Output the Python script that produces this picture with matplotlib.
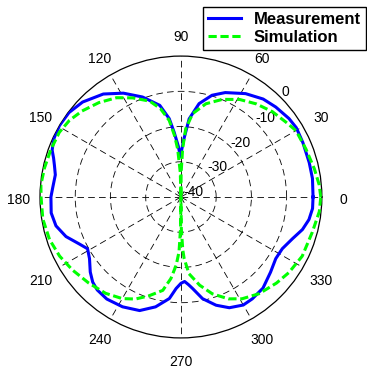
import numpy as np
import matplotlib.pyplot as plt
from matplotlib.transforms import offset_copy

plt.rcParams['font.family'] = ['Liberation Sans', 'DejaVu Sans']

# radiation pattern, angle in degrees, level in dB
meas_angle = [0, 8, 15, 24, 31, 36, 43.5, 50, 58, 67, 73, 79, 84, 87, 89, 90.8, 93, 96,
              98.5, 103, 111, 119, 127, 136, 143, 149.5, 155, 158, 160, 163, 166, 170,
              176, 180, 187, 193, 199, 205, 209, 214, 219.6, 224, 228, 234, 242, 250,
              257, 263.5, 267, 270, 272.5, 275, 277.3, 282, 288, 293.6, 300, 305, 312,
              320, 327, 333, 339.5, 345, 350, 355, 360]
meas_db = [-2.5, -2.3, -2.3, -2.1, -1.8, -2.1, -2.9, -3.7, -5.4, -7.8, -9.8, -13.0, -17.7,
           -23.4, -26.5, -28.5, -25.5, -21.5, -17.5, -13.3, -9.6, -6.3, -3.4, -1.2, -0.2,
           0.0, -0.3, -0.8, -1.1, -2.2, -3.0, -3.8, -3.5, -3.1, -2.9, -3.6, -5.5, -8.3,
           -9.7, -8.7, -6.6, -5.2, -4.5, -4.2, -4.7, -5.7, -8.0, -11.0, -14.0, -15.5,
           -16.0, -15.0, -13.8, -10.5, -7.7, -5.7, -4.6, -4.7, -5.2, -6.8, -7.9, -7.7,
           -6.2, -4.3, -3.1, -2.5, -2.5]

sim_angle = [0, 5, 12, 21, 30, 35.5, 43, 51, 59, 67, 75, 82, 86, 88, 89.5, 90.5, 91.5,
             93.9, 96, 98.7, 103, 108, 116, 123, 131, 139, 145.5, 152, 160, 168, 175,
             180, 189, 198, 206, 214, 223, 232, 240, 246, 252, 259, 263, 266, 268,
             269.3, 270, 270.7, 272, 273, 276, 282, 288, 295, 301, 309, 318, 325, 334,
             345, 354, 360]
sim_db = [-0.3, -0.6, -1.3, -2.0, -2.3, -3.4, -4.5, -6.0, -7.7, -9.9, -12.6, -16.1, -20.6,
          -26.3, -33, -40, -33, -26.3, -22.4, -18.0, -14.3, -11.4, -8.7, -6.4, -4.5, -2.8,
          -1.6, -0.9, -0.7, -0.4, -0.1, -0.3, -0.3, -0.8, -1.7, -2.9, -4.2, -5.3, -6.7,
          -8.3, -10.5, -13.0, -16.7, -20.6, -24.4, -31, -40, -31, -25, -22.5, -18.1,
          -14.4, -11.1, -8.1, -6.3, -4.7, -3.5, -2.6, -1.7, -1.4, -0.5, -0.3]

angle_ticks = list(range(0, 360, 30))
db_ticks = [-40, -30, -20, -10, 0]
db_floor = -40

fig = plt.figure(figsize=(3.67, 3.71), dpi=100)
ax = fig.add_axes([0.109, 0.089, 0.768, 0.760], projection='polar')

ax.plot(np.deg2rad(meas_angle), np.array(meas_db) - db_floor, color='#0000ff',
        lw=2.2, label='Measurement', zorder=3)
ax.plot(np.deg2rad(sim_angle), np.array(sim_db) - db_floor, color='#00ff00',
        lw=2.2, dashes=(2.7, 1.2), label='Simulation', zorder=4)

ax.set_ylim(0, 40)
ax.set_rgrids([10, 20, 30], labels=[])
ax.set_thetagrids(angle_ticks, labels=[])
ax.grid(True, color='k', linestyle=(0, (8, 5)), linewidth=0.6)
ax.spines['polar'].set_color('k')
ax.spines['polar'].set_linewidth(0.9)

# nudge labels down a bit so digits look centred
tr = offset_copy(ax.transData, fig=fig, x=0, y=-2.5, units='dots')
for a in angle_ticks:
    ax.text(np.deg2rad(a), 46, str(a), ha='center', va='center', fontsize=10,
            transform=tr)

# radial labels sit along a diagonal
lab_ang = [30, 42, 43.5, 44, 46]
lab_r = [4.0, 13.8, 23.5, 33.5, 42.5]
for d, a, r in zip(db_ticks, lab_ang, lab_r):
    ax.text(np.deg2rad(a), r, str(d), ha='center', va='center', fontsize=10,
            transform=tr)

leg = ax.legend(loc='upper right', bbox_to_anchor=(0.997, 0.981),
                bbox_transform=fig.transFigure, fancybox=False, framealpha=1,
                edgecolor='k', prop={'weight': 'bold', 'size': 12},
                handlelength=2.0, handletextpad=0.75, labelspacing=0.15,
                borderpad=0.3, borderaxespad=0)
leg.get_frame().set_linewidth(1.0)

fig.savefig('out.png', dpi=100)
